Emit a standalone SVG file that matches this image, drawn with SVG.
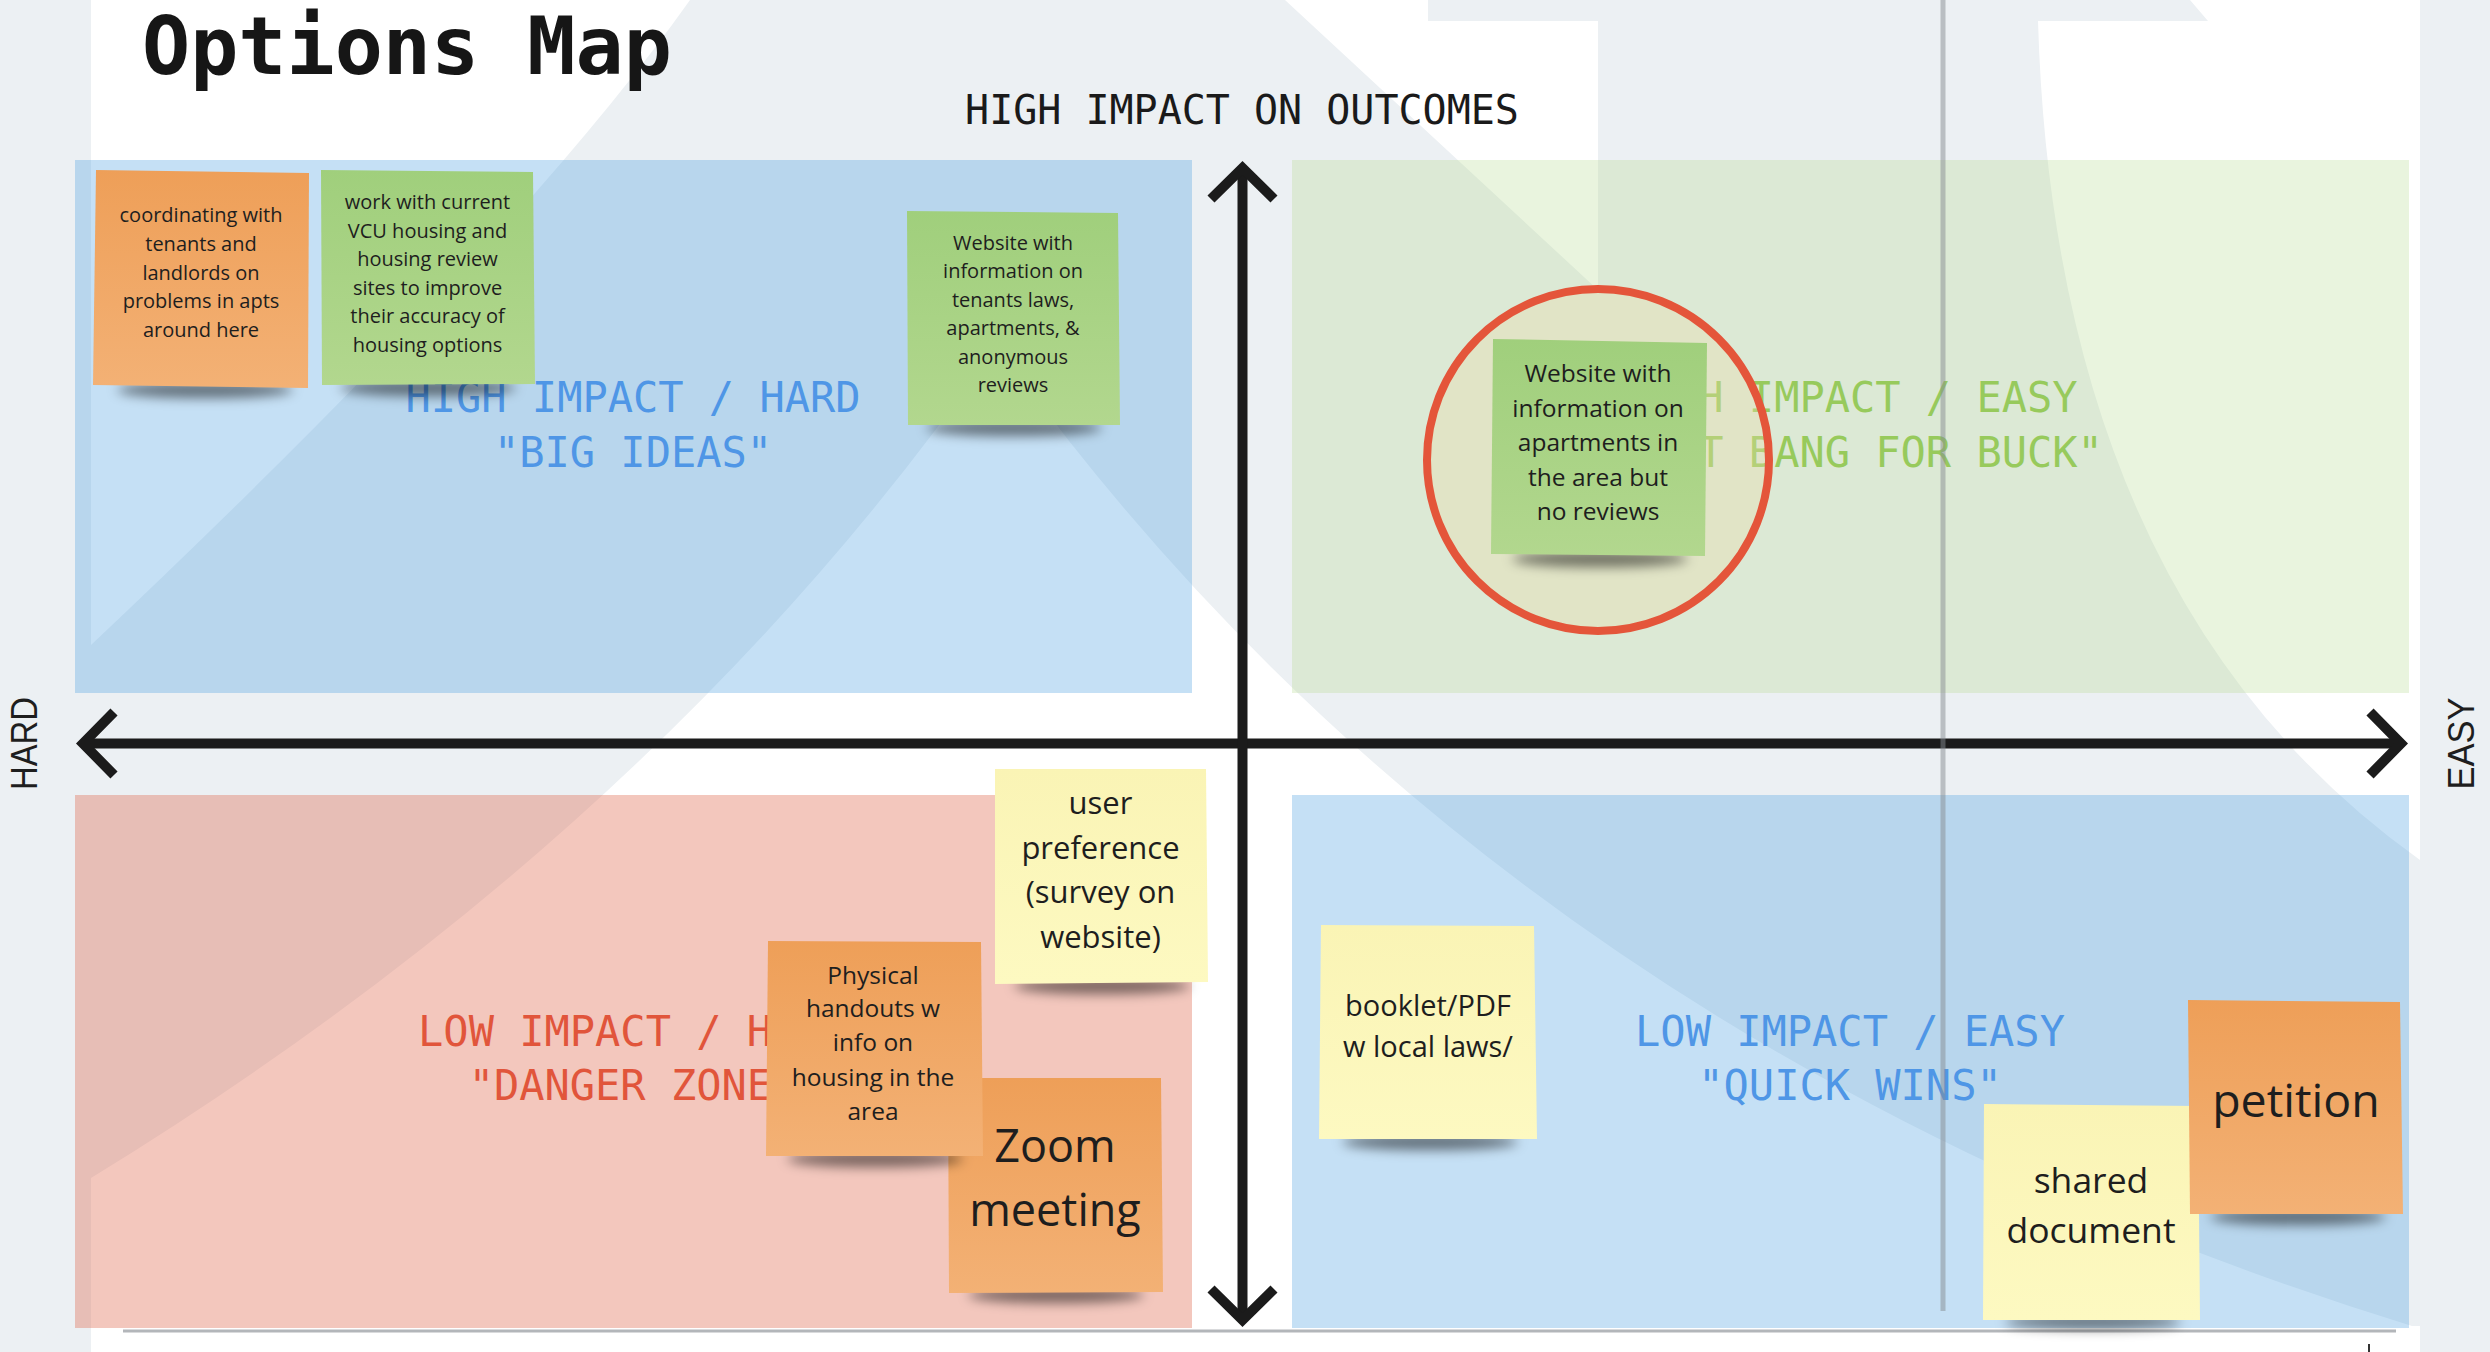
<svg xmlns="http://www.w3.org/2000/svg" width="2490" height="1352" viewBox="0 0 2490 1352">
<defs>
<style>
.bg{fill:#ECF0F3}
.wm{fill:#FFFFFF}
.quad-blue{fill:#5AA6E2;fill-opacity:0.35}
.quad-green{fill:#B6DA91;fill-opacity:0.3}
.quad-red{fill:#E17359;fill-opacity:0.4}
.qlabel{font-family:"DejaVu Sans Mono","Liberation Mono",monospace;font-size:42px;text-anchor:middle}
.lbl-blue{fill:#4F96E6}
.lbl-green{fill:#97CA5C}
.lbl-red{fill:#E1553B}
.axis{fill:none;stroke:#1B1B1B;stroke-width:10;stroke-linejoin:miter;stroke-miterlimit:10}
.nt{font-family:"Open Sans","Noto Sans","Liberation Sans",sans-serif;fill:#1E1E1E;text-anchor:middle}
.side{font-family:"Liberation Sans","Noto Sans",sans-serif;font-size:36px;fill:#1E1E1E;text-anchor:middle}
.shadow{fill:#000000;fill-opacity:0.5;filter:url(#blur)}
</style>
<linearGradient id="gOrange" x1="0" y1="0" x2="0" y2="1">
<stop offset="0" stop-color="#EE9F58"/>
<stop offset="1" stop-color="#F3B175"/>
</linearGradient>
<linearGradient id="gGreen" x1="0" y1="0" x2="0" y2="1">
<stop offset="0" stop-color="#A0CF7C"/>
<stop offset="1" stop-color="#B2D78E"/>
</linearGradient>
<linearGradient id="gYellow" x1="0" y1="0" x2="0" y2="1">
<stop offset="0" stop-color="#FAF4B5"/>
<stop offset="1" stop-color="#FDF9C1"/>
</linearGradient>
<filter id="blur" x="-30%" y="-200%" width="160%" height="500%">
<feGaussianBlur stdDeviation="6"/>
</filter>
</defs>

<rect class="bg" x="0" y="0" width="2490" height="1352"/>
<g id="watermark">
<path class="wm" d="M91,0 L690,0 Q520,240 91,645 Z"/>
<path class="wm" d="M91,1178 Q662,828 997,345 Q1496,1044 2412,1326 L2420,1326 L2420,1352 L91,1352 Z"/>
<path class="wm" d="M1285,0 L1428,0 L1428,21 L1598,21 L1598,290 Z"/>
<path class="wm" d="M2038,21 L2208,21 L2190,0 L2420,0 L2420,860 Q2055,600 2038,21 Z"/>
</g>

<g id="quadrants">
<rect id="q-tl" class="quad-blue" x="75" y="160" width="1117" height="533"/>
<rect id="q-tr" class="quad-green" x="1292" y="160" width="1117" height="533"/>
<rect id="q-bl" class="quad-red" x="75" y="795" width="1117" height="533"/>
<rect id="q-br" class="quad-blue" x="1292" y="795" width="1117" height="533"/>
</g>

<g id="quadrant-labels">
<text class="qlabel lbl-blue" x="633" y="412">HIGH IMPACT / HARD</text>
<text class="qlabel lbl-blue" x="633" y="467">"BIG IDEAS"</text>
<text class="qlabel lbl-green" x="1850" y="412">HIGH IMPACT / EASY</text>
<text class="qlabel lbl-green" x="1850" y="467">"BEST BANG FOR BUCK"</text>
<text class="qlabel lbl-red" x="633" y="1046">LOW IMPACT / HARD</text>
<text class="qlabel lbl-red" x="633" y="1100">"DANGER ZONE"</text>
<text class="qlabel lbl-blue" x="1850" y="1046">LOW IMPACT / EASY</text>
<text class="qlabel lbl-blue" x="1850" y="1100">"QUICK WINS"</text>
</g>

<g id="title">
<text x="142" y="74" font-family="DejaVu Sans Mono, Liberation Mono, monospace" font-weight="bold" font-size="80" fill="#161616">Options Map</text>
</g>
<g id="axis-labels">
<text x="1242" y="124" font-family="DejaVu Sans Mono, Liberation Mono, monospace" font-size="40" fill="#1A1A1A" text-anchor="middle">HIGH IMPACT ON OUTCOMES</text>
<text class="side" transform="translate(37,743.5) rotate(-90)" textLength="93" lengthAdjust="spacingAndGlyphs">HARD</text>
<text class="side" transform="translate(2474,743.5) rotate(-90)" textLength="92" lengthAdjust="spacingAndGlyphs">EASY</text>
</g>

<g id="connectors">
<line class="axis" x1="82" y1="743.5" x2="2401" y2="743.5"/>
<polyline class="axis" points="114,712 83,743.5 114,775"/>
<polyline class="axis" points="2370,712 2401,743.5 2370,775"/>
<line class="axis" x1="1242.5" y1="168" x2="1242.5" y2="1320"/>
<polyline class="axis" points="1211,199 1242.5,168 1274,199"/>
<polyline class="axis" points="1211,1289 1242.5,1320 1274,1289"/>
</g>

<g id="guides">
<line x1="1943" y1="0" x2="1943" y2="1311" stroke="#858B92" stroke-opacity="0.5" stroke-width="5"/>
<line x1="123" y1="1331" x2="2396" y2="1331" stroke="#B3B6BA" stroke-width="3"/>
<line x1="2369" y1="1344" x2="2369" y2="1352" stroke="#333333" stroke-width="2"/>
</g>

<g id="note-coordinating">
<ellipse class="shadow" cx="205" cy="390" rx="88" ry="8"/>
<polygon points="96,170 309,173 308,388 93,385" fill="url(#gOrange)"/>
<text class="nt" font-size="20"><tspan x="201" y="222">coordinating with</tspan><tspan x="201" y="250.5">tenants and</tspan><tspan x="201" y="279.5">landlords on</tspan><tspan x="201" y="308">problems in apts</tspan><tspan x="201" y="337">around here</tspan></text>
</g>

<g id="note-vcu">
<ellipse class="shadow" cx="428" cy="388" rx="88" ry="8"/>
<polygon points="321,170 533,172 535,384 322,385" fill="url(#gGreen)"/>
<text class="nt" font-size="20"><tspan x="427.5" y="209">work with current</tspan><tspan x="427.5" y="237.5">VCU housing and</tspan><tspan x="427.5" y="266">housing review</tspan><tspan x="427.5" y="294.5">sites to improve</tspan><tspan x="427.5" y="323">their accuracy of</tspan><tspan x="427.5" y="351.5">housing options</tspan></text>
</g>

<g id="note-website-laws">
<ellipse class="shadow" cx="1014" cy="428" rx="88" ry="8"/>
<polygon points="907,211 1118,213 1120,425 908,425" fill="url(#gGreen)"/>
<text class="nt" font-size="20"><tspan x="1013" y="250">Website with</tspan><tspan x="1013" y="278">information on</tspan><tspan x="1013" y="307">tenants laws,</tspan><tspan x="1013" y="335">apartments, &amp;</tspan><tspan x="1013" y="364">anonymous</tspan><tspan x="1013" y="392">reviews</tspan></text>
</g>

<g id="highlight-circle">
<circle cx="1598" cy="460" r="171" fill="#EADCAC" fill-opacity="0.35" stroke="#E4553A" stroke-width="8"/>
</g>

<g id="note-website-apartments">
<ellipse class="shadow" cx="1600" cy="559" rx="88" ry="8"/>
<polygon points="1493,339 1707,343 1705,556 1491,554" fill="url(#gGreen)"/>
<text class="nt" font-size="24.5"><tspan x="1598" y="382">Website with</tspan><tspan x="1598" y="417">information on</tspan><tspan x="1598" y="451">apartments in</tspan><tspan x="1598" y="485.5">the area but</tspan><tspan x="1598" y="520">no reviews</tspan></text>
</g>

<g id="note-user-preference">
<ellipse class="shadow" cx="1102" cy="986" rx="88" ry="8"/>
<polygon points="995,769 1206,769 1208,982 995,984" fill="url(#gYellow)"/>
<text class="nt" font-size="31"><tspan x="1100.5" y="814">user</tspan><tspan x="1100.5" y="859">preference</tspan><tspan x="1100.5" y="903">(survey on</tspan><tspan x="1100.5" y="948">website)</tspan></text>
</g>

<g id="note-zoom">
<ellipse class="shadow" cx="1056" cy="1295" rx="88" ry="8"/>
<polygon points="948,1078 1161,1078 1163,1292 949,1293" fill="url(#gOrange)"/>
<text class="nt" font-size="45"><tspan x="1055" y="1161.5">Zoom</tspan><tspan x="1055" y="1226">meeting</tspan></text>
</g>

<g id="note-physical">
<ellipse class="shadow" cx="875" cy="1159" rx="88" ry="8"/>
<polygon points="768,941 981,942 983,1156 766,1156" fill="url(#gOrange)"/>
<text class="nt" font-size="24.5"><tspan x="873" y="983.5">Physical</tspan><tspan x="873" y="1017">handouts w</tspan><tspan x="873" y="1051">info on</tspan><tspan x="873" y="1086">housing in the</tspan><tspan x="873" y="1120">area</tspan></text>
</g>

<g id="note-booklet">
<ellipse class="shadow" cx="1430" cy="1142" rx="88" ry="8"/>
<polygon points="1321,925 1534,926 1537,1139 1319,1139" fill="url(#gYellow)"/>
<text class="nt" font-size="29"><tspan x="1428" y="1016">booklet/PDF</tspan><tspan x="1428" y="1056.5">w local laws/</tspan></text>
</g>

<g id="note-shared-document">
<ellipse class="shadow" cx="2093" cy="1322" rx="88" ry="7"/>
<polygon points="1984,1104 2198,1106 2200,1320 1983,1320" fill="url(#gYellow)"/>
<text class="nt" font-size="35.5"><tspan x="2091" y="1193">shared</tspan><tspan x="2091" y="1243">document</tspan></text>
</g>

<g id="note-petition">
<ellipse class="shadow" cx="2298" cy="1217" rx="88" ry="8"/>
<polygon points="2188,1000 2400,1002 2403,1214 2190,1214" fill="url(#gOrange)"/>
<text class="nt" font-size="46.5"><tspan x="2296" y="1116.5">petition</tspan></text>
</g>
</svg>
